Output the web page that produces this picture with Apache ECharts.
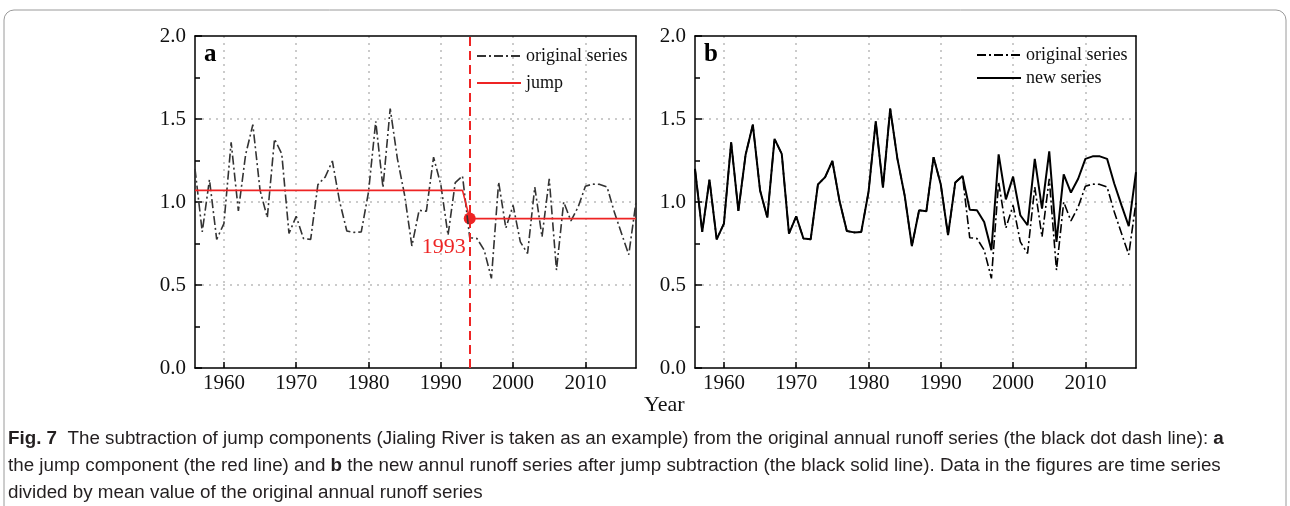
<!DOCTYPE html>
<html>
<head>
<meta charset="utf-8">
<script src="https://cdn.jsdelivr.net/npm/echarts@6/dist/echarts.min.js"></script>
<style>
  html, body { margin: 0; padding: 0; background: #fff; }
  #chart { width: 1290px; height: 506px; }
</style>
</head>
<body>
<div id="chart"></div>
<script>
// years of the annual series
const years = [
  '1956', '1957', '1958', '1959', '1960', '1961', '1962', '1963', '1964', '1965',
  '1966', '1967', '1968', '1969', '1970', '1971', '1972', '1973', '1974', '1975',
  '1976', '1977', '1978', '1979', '1980', '1981', '1982', '1983', '1984', '1985',
  '1986', '1987', '1988', '1989', '1990', '1991', '1992', '1993', '1994', '1995',
  '1996', '1997', '1998', '1999', '2000', '2001', '2002', '2003', '2004', '2005',
  '2006', '2007', '2008', '2009', '2010', '2011', '2012', '2013', '2014', '2015',
  '2016', '2017'
]

// original annual runoff / mean
const originalSeries = [
  1.20, 0.82, 1.135, 0.775, 0.87, 1.36, 0.946, 1.285, 1.466, 1.07,
  0.906, 1.38, 1.29, 0.81, 0.914, 0.78, 0.775, 1.105, 1.15, 1.247,
  1.004, 0.825, 0.817, 0.82, 1.06, 1.486, 1.087, 1.563, 1.26, 1.04,
  0.735, 0.95, 0.944, 1.27, 1.105, 0.80, 1.117, 1.157, 0.785, 0.78,
  0.71, 0.54, 1.12, 0.843, 0.98, 0.76, 0.69, 1.09, 0.79, 1.14,
  0.59, 1.0, 0.886, 0.97, 1.095, 1.108, 1.106, 1.09, 0.94, 0.81,
  0.683, 1.0
]

// series after jump subtraction
const newSeries = [
  1.20, 0.82, 1.135, 0.775, 0.87, 1.36, 0.946, 1.285, 1.466, 1.07,
  0.906, 1.38, 1.29, 0.81, 0.914, 0.78, 0.775, 1.105, 1.15, 1.247,
  1.004, 0.825, 0.817, 0.82, 1.06, 1.486, 1.087, 1.563, 1.26, 1.04,
  0.735, 0.95, 0.944, 1.27, 1.105, 0.80, 1.117, 1.157, 0.954, 0.95,
  0.88, 0.71, 1.287, 1.016, 1.153, 0.92, 0.86, 1.26, 0.96, 1.305,
  0.76, 1.167, 1.057, 1.14, 1.26, 1.275, 1.275, 1.26, 1.11, 0.98,
  0.854, 1.18
]

// jump component (level before / after the change point)
const jumpYears = ['1956', '1993', '1994', '2017']
const jumpValues = [1.07, 1.07, 0.90, 0.90]
const jumpYear = '1994'
const jumpPointValue = 0.90

const yTicks = ['0.0', '0.5', '1.0', '1.5', '2.0']

const RED = '#ee2424'
const SERIF = "'Liberation Serif', 'Times New Roman', serif"
const DASH_DOT = [9, 3, 2, 3]

const chart = echarts.init(document.getElementById('chart'), null, { renderer: 'canvas' })

const isDecade = (idx, val) => Number(val) % 10 === 0

const makeX = (gridIndex) => ({
  type: 'category',
  gridIndex,
  data: years,
  boundaryGap: false,
  axisLine: { onZero: false, lineStyle: { color: '#000', width: 1.5 } },
  axisTick: { inside: true, length: 6, interval: isDecade, lineStyle: { color: '#000', width: 1.5 } },
  axisLabel: { interval: isDecade, color: '#111', fontFamily: SERIF, fontSize: 21, margin: 5 },
  splitLine: { show: true, interval: isDecade, lineStyle: { color: '#bbb', type: [2, 5], width: 1.5 } }
})

// top frame edge
const makeTopX = (gridIndex) => ({
  type: 'category',
  gridIndex,
  position: 'top',
  data: years,
  boundaryGap: false,
  axisLine: { show: true, onZero: false, lineStyle: { color: '#000', width: 1.5 } },
  axisTick: { show: false },
  axisLabel: { show: false },
  splitLine: { show: false }
})

const makeY = (gridIndex) => ({
  type: 'value',
  gridIndex,
  min: 0,
  max: 2,
  interval: 0.5,
  axisLine: { show: true, onZero: false, lineStyle: { color: '#000', width: 1.5 } },
  axisTick: { show: true, inside: true, length: 7, lineStyle: { color: '#000', width: 1.5 } },
  minorTick: { show: true, splitNumber: 2, length: 5, lineStyle: { color: '#000', width: 1.5 } },
  axisLabel: {
    color: '#111', fontFamily: SERIF, fontSize: 21, margin: 9,
    formatter: (v) => yTicks[Math.round(v / 0.5)]
  },
  splitLine: { show: true, showMinLine: false, showMaxLine: false, lineStyle: { color: '#bbb', type: [2, 5], width: 1.5 } }
})

// right frame edge
const makeRightY = (gridIndex) => ({
  type: 'value',
  gridIndex,
  position: 'right',
  min: 0,
  max: 2,
  interval: 0.5,
  axisLine: { show: true, onZero: false, lineStyle: { color: '#000', width: 1.5 } },
  axisTick: { show: false },
  axisLabel: { show: false },
  splitLine: { show: false }
})

const legendText = { color: '#111', fontFamily: SERIF, fontSize: 18 }

chart.setOption({
  animation: false,
  backgroundColor: '#fff',
  grid: [
    { left: 195, top: 36, width: 441, height: 332 },
    { left: 695, top: 36, width: 441, height: 332 }
  ],
  xAxis: [makeX(0), makeX(1), makeTopX(0), makeTopX(1)],
  yAxis: [makeY(0), makeY(1), makeRightY(0), makeRightY(1)],
  legend: [
    {
      left: 471, top: 42, orient: 'vertical', itemWidth: 44, itemHeight: 10, itemGap: 9,
      itemStyle: { opacity: 0 },
      data: ['original series', 'jump'], textStyle: legendText
    },
    {
      left: 971, top: 41, orient: 'vertical', itemWidth: 44, itemHeight: 10, itemGap: 5,
      itemStyle: { opacity: 0 },
      data: ['original series ', 'new series'], textStyle: legendText
    }
  ],
  series: [
    {
      name: 'original series',
      type: 'line',
      xAxisIndex: 0, yAxisIndex: 0,
      data: originalSeries,
      symbol: 'none',
      lineStyle: { color: '#333', width: 1.6, type: DASH_DOT },
      itemStyle: { color: '#333' }
    },
    {
      name: 'jump',
      type: 'line',
      xAxisIndex: 0, yAxisIndex: 0,
      data: jumpYears.map((y, i) => [y, jumpValues[i]]),
      symbol: 'none',
      lineStyle: { color: RED, width: 1.6 },
      itemStyle: { color: RED },
      markLine: {
        silent: true,
        symbol: 'none',
        label: { show: false },
        lineStyle: { color: RED, width: 2, type: [9, 5] },
        data: [{ xAxis: jumpYear }]
      }
    },
    {
      name: 'change point',
      type: 'scatter',
      xAxisIndex: 0, yAxisIndex: 0,
      data: [[jumpYear, jumpPointValue]],
      symbolSize: 12,
      itemStyle: { color: RED, opacity: 1 },
      label: {
        show: true,
        formatter: '1993',
        position: 'bottom',
        offset: [-26, 7],
        color: RED,
        opacity: 1,
        fontFamily: SERIF,
        fontSize: 22
      }
    },
    {
      name: 'original series ',
      type: 'line',
      xAxisIndex: 1, yAxisIndex: 1,
      data: originalSeries,
      symbol: 'none',
      lineStyle: { color: '#000', width: 1.6, type: DASH_DOT },
      itemStyle: { color: '#000' }
    },
    {
      name: 'new series',
      type: 'line',
      xAxisIndex: 1, yAxisIndex: 1,
      data: newSeries,
      symbol: 'none',
      lineStyle: { color: '#000', width: 2 },
      itemStyle: { color: '#000' }
    }
  ],
  graphic: [
    {
      type: 'rect',
      shape: { x: 4, y: 10, width: 1282, height: 530, r: 10 },
      style: { fill: 'none', stroke: '#9a9a9a', lineWidth: 1 },
      silent: true
    },
    { type: 'text', left: 204, top: 42, style: { text: 'a', font: "bold 25px 'Liberation Serif', serif", fill: '#000' } },
    { type: 'text', left: 704, top: 42, style: { text: 'b', font: "bold 25px 'Liberation Serif', serif", fill: '#000' } },
    { type: 'text', left: 644, top: 394, style: { text: 'Year', font: "22px 'Liberation Serif', serif", fill: '#111' } },
    {
      type: 'text', left: 8, top: 425,
      style: {
        text: '{b|Fig. 7}  The subtraction of jump components (Jialing River is taken as an example) from the original annual runoff series (the black dot dash line): {b|a}\nthe jump component (the red line) and {b|b} the new annul runoff series after jump subtraction (the black solid line). Data in the figures are time series\ndivided by mean value of the original annual runoff series',
        font: "18.8px 'Liberation Sans', Arial, sans-serif",
        fill: '#231f20',
        lineHeight: 27,
        rich: {
          b: { font: "bold 18.8px 'Liberation Sans', Arial, sans-serif", fill: '#231f20', lineHeight: 27 }
        }
      }
    }
  ]
})

window.addEventListener('resize', () => chart.resize())
</script>
</body>
</html>
